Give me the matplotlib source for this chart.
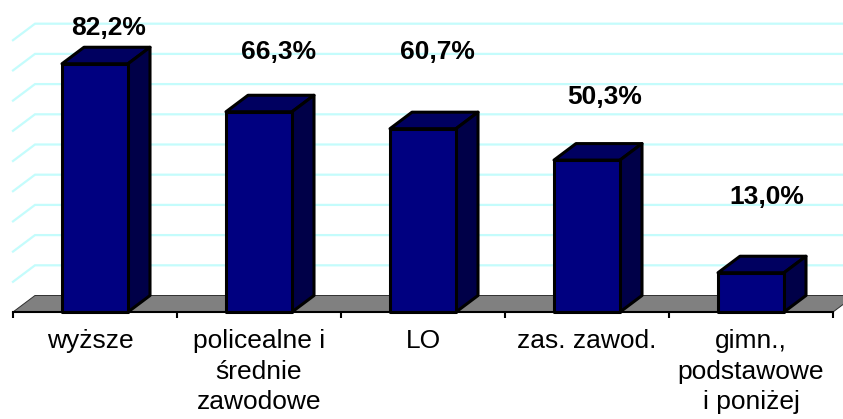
import numpy as np
import matplotlib
matplotlib.use("Agg")
import matplotlib.pyplot as plt
from matplotlib.patches import Polygon
from matplotlib.transforms import ScaledTranslation

categories = ["wyższe", "policealne i\nśrednie\nzawodowe", "LO", "zas. zawod.", "gimn.,\npodstawowe\ni poniżej"]
values = [82.2, 66.3, 60.7, 50.3, 13.0]
value_labels = ["82,2%", "66,3%", "60,7%", "50,3%", "13,0%"]
grid_values = [10, 20, 30, 40, 50, 60, 70, 80, 90]
# hand-placed label offsets in pixels (dx from bar centre, dy above bar front top)
label_dx = [14, 20, 14, 18, 16]
label_dy = [36, 60, 77, 63, 76]

W, H = 843, 419
plt.rcParams['font.family'] = ['Liberation Sans', 'DejaVu Sans']
fig = plt.figure(figsize=(W/100, H/100), dpi=100)
ax = fig.add_axes([0, 0, 1, 1])

PX_X = 164.0      # pixels per category
PX_Y = 3.02       # pixels per percent
X0, Y0 = 95.0, 312.0
ax.set_xlim((0 - X0)/PX_X, (W - X0)/PX_X)
ax.set_ylim((Y0 - H)/PX_Y, Y0/PX_Y)
ax.patch.set_visible(False)

DX = 22/PX_X      # 3-D depth
DY = 16.5/PX_Y
LEFT, RIGHT = -0.5, 4.5
HALF = 33/PX_X

# back wall gridlines
for g in grid_values:
    ax.plot([LEFT, LEFT+DX, RIGHT+DX], [g, g+DY, g+DY], color="#C4FCFC", lw=1.6,
            solid_joinstyle="miter", zorder=1)

# floor
ax.add_patch(Polygon([(LEFT, 0), (LEFT+DX, DY), (RIGHT+DX, DY), (RIGHT, 0)], closed=True,
                     facecolor="#808080", edgecolor="#303030", lw=0.7, zorder=2))

# bars
EDGE = 2.2
for i, v in enumerate(values):
    l, r = i-HALF, i+HALF
    ax.add_patch(Polygon([(l, v), (l+DX, v+DY), (r+DX, v+DY), (r, v)], closed=True,
                         facecolor="#000060", edgecolor="black", lw=EDGE, joinstyle="round", zorder=3))
    ax.add_patch(Polygon([(r, 0), (r+DX, DY), (r+DX, v+DY), (r, v)], closed=True,
                         facecolor="#000048", edgecolor="black", lw=EDGE, joinstyle="round", zorder=3))
    ax.add_patch(Polygon([(l, 0), (r, 0), (r, v), (l, v)], closed=True,
                         facecolor="#000080", edgecolor="black", lw=EDGE, joinstyle="round", zorder=4))
    ax.annotate(value_labels[i], xy=(i, v), xytext=(label_dx[i]*0.72, label_dy[i]*0.72),
                textcoords="offset points", ha="center", va="center",
                fontsize=19, fontweight="bold", color="black", zorder=5)

# axis
for s in ["top", "left", "right"]:
    ax.spines[s].set_visible(False)
ax.spines["bottom"].set_position(("data", 0))
ax.spines["bottom"].set_bounds(LEFT, RIGHT)
ax.spines["bottom"].set_linewidth(1.5)
ax.spines["bottom"].set_zorder(6)
ax.set_yticks([])
ax.set_xticks(np.arange(LEFT, RIGHT+0.5, 1.0))
ax.set_xticklabels([])
ax.tick_params(axis="x", which="major", length=4.5, width=1.5, direction="out")
ax.set_xticks(range(len(categories)), categories, minor=True)
ax.tick_params(axis="x", which="minor", length=0, pad=12.5, labelsize=19)
for t in ax.get_xticklabels(minor=True):
    t.set_linespacing(1.33)
first = ax.get_xticklabels(minor=True)[0]
first.set_transform(first.get_transform() + ScaledTranslation(-4.5/100, 0, fig.dpi_scale_trans))

fig.savefig("out.png", dpi=100, facecolor="white")
